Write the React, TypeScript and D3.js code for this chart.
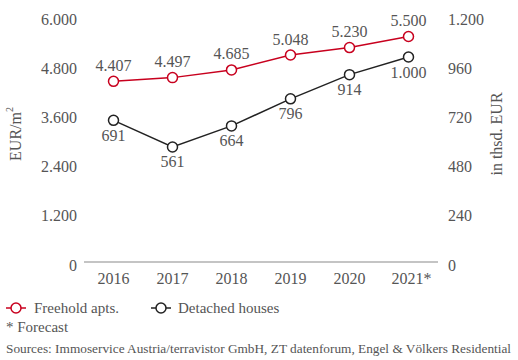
import React from "react";
import * as d3 from "d3";

const years = ["2016", "2017", "2018", "2019", "2020", "2021*"];
const apts = [4407, 4497, 4685, 5048, 5230, 5500];
const houses = [691, 561, 664, 796, 914, 1000];
const leftTicks = [0, 1200, 2400, 3600, 4800, 6000];
const rightTicks = [0, 240, 480, 720, 960, 1200];

const RED = "#c8001e";
const DARK = "#222";
const TXT = "#555";
const FONT = "'Liberation Serif', 'Times New Roman', serif";

const fmt = (v: number) => {
  const s = String(v);
  return s.length > 3 ? s.slice(0, s.length - 3) + "." + s.slice(-3) : s;
};

export default function App() {
  const W = 518, H = 360;
  const x = d3.scaleBand<string>().domain(years).range([84, 438]);
  const yL = d3.scaleLinear().domain([0, 6000]).range([262, 16]);
  const yR = d3.scaleLinear().domain([0, 1200]).range([262, 16]);
  const cx = (d: string) => (x(d) as number) + x.bandwidth() / 2;
  const lineA = d3.line<number>().x((_, i) => cx(years[i])).y((d) => yL(d));
  const lineH = d3.line<number>().x((_, i) => cx(years[i])).y((d) => yR(d));

  return (
    <svg width={W} height={H} style={{ position: "absolute", left: 0, top: 0, background: "#fff" }} fontFamily={FONT}>
      <line x1={84} x2={438} y1={yL(0)} y2={yL(0)} stroke="#8a8a8a" strokeWidth={1.2} />
      {leftTicks.map((t) => (
        <text key={"l" + t} x={77} y={yL(t) + 3} textAnchor="end" dominantBaseline="central" fontSize={16} fill={TXT}>
          {fmt(t)}
        </text>
      ))}
      {rightTicks.map((t) => (
        <text key={"r" + t} x={448} y={yR(t) + 3} textAnchor="start" dominantBaseline="central" fontSize={16} fill={TXT}>
          {fmt(t)}
        </text>
      ))}
      {years.map((yv) => (
        <text key={yv} x={cx(yv) + (yv.endsWith("*") ? 3 : 0)} y={278} textAnchor="middle" dominantBaseline="central" fontSize={16} fill={TXT}>
          {yv}
        </text>
      ))}
      <text transform="translate(15,134) rotate(-90)" textAnchor="middle" dominantBaseline="central" fontSize={16} fill={TXT}>
        EUR/m<tspan dy={-6} fontSize={10}>2</tspan>
      </text>
      <text transform="translate(496,134) rotate(-90)" textAnchor="middle" dominantBaseline="central" fontSize={16} fill={TXT}>
        in thsd. EUR
      </text>

      <path d={lineA(apts) || ""} fill="none" stroke={RED} strokeWidth={1.5} />
      <path d={lineH(houses) || ""} fill="none" stroke={DARK} strokeWidth={1.5} />
      {apts.map((v, i) => (
        <g key={"a" + i}>
          <circle cx={cx(years[i])} cy={yL(v)} r={5} fill="#fff" stroke={RED} strokeWidth={1.5} />
          <text x={cx(years[i])} y={yL(v) - 16} textAnchor="middle" dominantBaseline="central" fontSize={16} fill={TXT}>
            {fmt(v)}
          </text>
        </g>
      ))}
      {houses.map((v, i) => (
        <g key={"h" + i}>
          <circle cx={cx(years[i])} cy={yR(v)} r={5} fill="#fff" stroke={DARK} strokeWidth={1.5} />
          <text x={cx(years[i])} y={yR(v) + 15} textAnchor="middle" dominantBaseline="central" fontSize={16} fill={TXT}>
            {fmt(v)}
          </text>
        </g>
      ))}

      <line x1={6} x2={26} y1={308} y2={308} stroke={RED} strokeWidth={1.5} />
      <circle cx={16} cy={308} r={5} fill="#fff" stroke={RED} strokeWidth={1.5} />
      <text x={34} y={308} dominantBaseline="central" fontSize={15} fill={TXT}>Freehold apts.</text>
      <line x1={151} x2={171} y1={308} y2={308} stroke={DARK} strokeWidth={1.5} />
      <circle cx={161} cy={308} r={5} fill="#fff" stroke={DARK} strokeWidth={1.5} />
      <text x={178} y={308} dominantBaseline="central" fontSize={15} fill={TXT}>Detached houses</text>
      <text x={6} y={327} dominantBaseline="central" fontSize={15} fill={TXT}>* Forecast</text>
      <text x={6} y={348} dominantBaseline="central" fontSize={13.3} fill={TXT}>
        Sources: Immoservice Austria/terravistor GmbH, ZT datenforum, Engel &amp; Völkers Residential
      </text>
    </svg>
  );
}
